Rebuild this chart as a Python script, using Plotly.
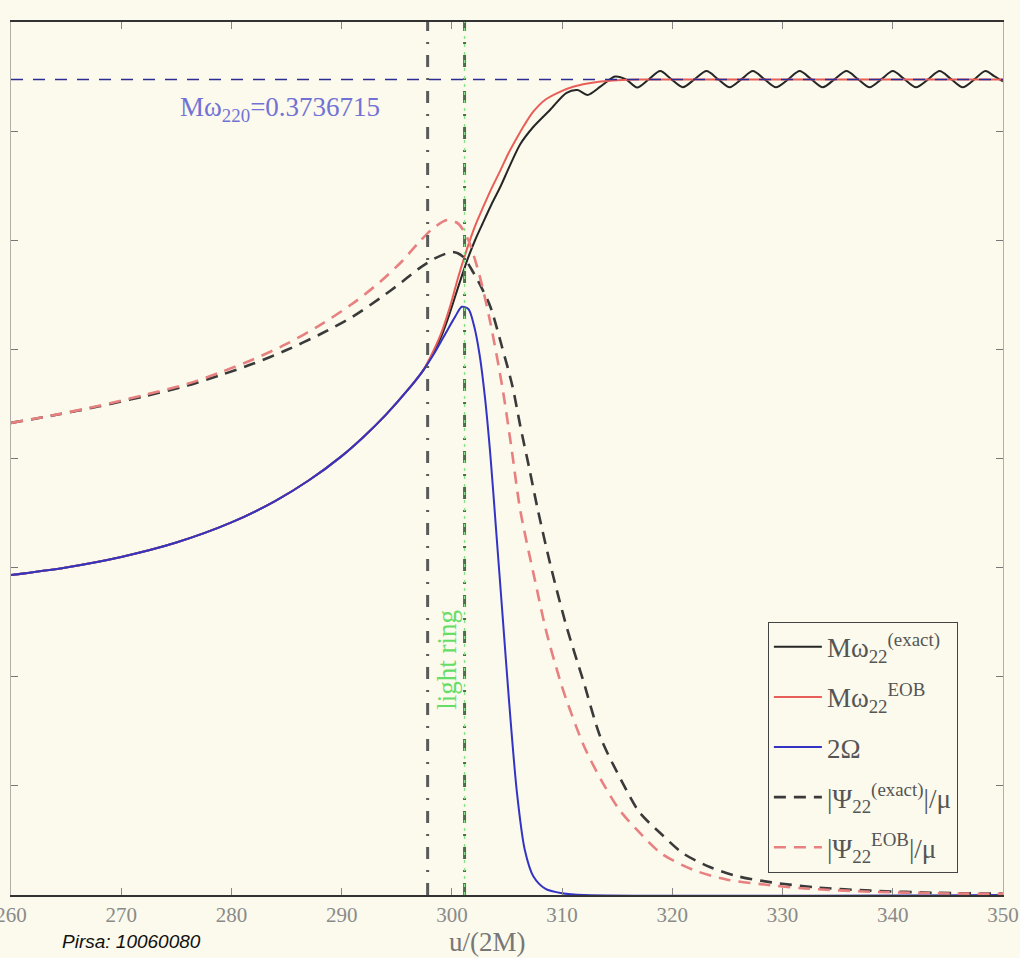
import plotly.graph_objects as go

# ---- data: u/(2M) on x, frequencies / amplitudes on y ----
# shared inspiral part (all frequency curves coincide here)
u_inspiral = [260, 265, 270, 275, 280, 284, 287, 290, 292, 294, 296, 297.4]
w_inspiral = [0.1466, 0.1501, 0.1549, 0.1615, 0.1707, 0.1806, 0.1899, 0.2011,
              0.2100, 0.2200, 0.2314, 0.2404]

# M omega_22 (exact): merger + ringdown with residual oscillation
u_omega_exact_late = [298.0, 299.0, 299.8, 300.6, 301.4, 302.1, 302.8, 303.6, 304.4,
                      305.2, 306.2, 307.4, 308.9, 310.4, 311.4, 312.3, 313.5, 314.8,
                      315.8, 316.8, 317.85, 318.9, 319.9, 320.95, 322.0, 323.1, 324.15,
                      325.2, 326.25, 327.3, 328.35, 329.4, 330.5, 331.55, 332.6, 333.65,
                      334.7, 335.8, 336.85, 337.9, 338.95, 340.0, 341.05, 342.1, 343.2,
                      344.25, 345.3, 346.35, 347.4, 348.4, 349.2, 350.0]
omega_exact_late = [0.2455, 0.2555, 0.2665, 0.2790, 0.2910, 0.3000, 0.3078, 0.3165, 0.3245,
                    0.3335, 0.3440, 0.3520, 0.3597, 0.3675, 0.3688, 0.3666, 0.3705, 0.3750,
                    0.3737, 0.3700, 0.3737, 0.3775, 0.3738, 0.3701, 0.3737, 0.3775, 0.3738,
                    0.3701, 0.3737, 0.3775, 0.3738, 0.3701, 0.3737, 0.3775, 0.3738, 0.3701,
                    0.3737, 0.3775, 0.3738, 0.3701, 0.3737, 0.3775, 0.3738, 0.3701, 0.3737,
                    0.3775, 0.3738, 0.3701, 0.3737, 0.3775, 0.3752, 0.3728]

# M omega_22 (EOB)
u_omega_eob_late = [298.0, 299.0, 299.8, 300.6, 301.4, 302.1, 302.8, 303.6, 304.4, 305.1,
                    305.8, 306.6, 307.4, 308.5, 309.8, 311.0, 312.3, 313.5, 315.0, 317.0, 350.0]
omega_eob_late = [0.2460, 0.2570, 0.2690, 0.2835, 0.2965, 0.3065, 0.3148, 0.3238, 0.3320,
                  0.3395, 0.3460, 0.3530, 0.3590, 0.3645, 0.3680, 0.3703, 0.3718, 0.3727,
                  0.3733, 0.3737, 0.3737]

# 2 Omega (orbital frequency)
u_two_omega_late = [298.5, 299.5, 300.3, 300.9, 301.5, 302.0, 302.5, 303.0, 303.5, 304.0,
                    304.6, 305.2, 305.9, 306.6, 307.4, 308.5, 310.0, 312.0, 350.0]
two_omega_late = [0.2490, 0.2580, 0.2650, 0.2695, 0.2685, 0.2610, 0.2480, 0.2280, 0.2010,
                  0.1680, 0.1280, 0.0880, 0.0470, 0.0210, 0.0085, 0.0028, 0.0008, 0.0, 0.0]

# |Psi_22| / mu, exact
u_psi_exact = [260, 264, 268, 272, 276, 279, 282, 285, 288, 291, 293.5, 295.5, 297.0,
               298.5, 300.1, 301.0, 301.8, 302.7, 303.5, 304.5, 305.5, 306.2, 307.0,
               307.8, 309.0, 310.4, 311.9, 313.5, 315.5, 317.0, 318.9, 321.0, 323.4,
               326.0, 329.0, 333.0, 338.0, 344.0, 350.0]
psi_exact = [0.2163, 0.2199, 0.2239, 0.2284, 0.2334, 0.2382, 0.2435, 0.2497, 0.2568,
             0.2650, 0.2735, 0.2810, 0.2870, 0.2918, 0.2946, 0.2925, 0.2865, 0.2782,
             0.2694, 0.2520, 0.2330, 0.2150, 0.1960, 0.1764, 0.1500, 0.1230, 0.0985,
             0.0720, 0.0513, 0.0380, 0.0284, 0.0190, 0.0128, 0.0085, 0.0058, 0.0035,
             0.0020, 0.0010, 0.0006]

# |Psi_22| / mu, EOB
u_psi_eob = [260, 264, 268, 272, 276, 279, 282, 285, 288, 291, 293.5, 295.5, 297.0,
             298.3, 299.6, 300.6, 301.5, 302.5, 303.5, 304.6, 305.4, 306.2, 307.5,
             308.6, 309.8, 310.4, 312.0, 313.7, 315.2, 316.8, 319.0, 321.9, 325.0,
             328.0, 332.0, 338.0, 344.0, 350.0]
psi_eob = [0.2163, 0.2200, 0.2242, 0.2290, 0.2342, 0.2395, 0.2455, 0.2525, 0.2610,
           0.2710, 0.2810, 0.2905, 0.2990, 0.3055, 0.3093, 0.3075, 0.3000, 0.2840,
           0.2620, 0.2320, 0.2050, 0.1764, 0.1450, 0.1200, 0.0985, 0.0893, 0.0680,
           0.0513, 0.0390, 0.0298, 0.0190, 0.0115, 0.0070, 0.0050, 0.0030, 0.0015,
           0.0008, 0.0005]

M_OMEGA_220 = 0.3736715   # fundamental QNM frequency
U_PSI_PEAK = 297.8        # reference time (gray marker)
U_LIGHT_RING = 301.15     # light-ring crossing

x_ticks = [260, 270, 280, 290, 300, 310, 320, 330, 340, 350]
y_ticks = [0, 0.05, 0.1, 0.15, 0.2, 0.25, 0.3, 0.35, 0.4]

BG = "#FBFAEC"
SERIF = "Liberation Serif, Times New Roman, serif"

fig = go.Figure()

curves = [
    (u_inspiral + u_omega_exact_late, w_inspiral + omega_exact_late,
     "Mω<sub>22</sub><sup>(exact)</sup>", dict(color="#262626", width=2)),
    (u_inspiral + u_omega_eob_late, w_inspiral + omega_eob_late,
     "Mω<sub>22</sub><sup>EOB</sup>", dict(color="#E85E58", width=2)),
    (u_inspiral + u_two_omega_late, w_inspiral + two_omega_late,
     "2Ω", dict(color="#3434C4", width=2)),
    (u_psi_exact, psi_exact,
     "|Ψ<sub>22</sub><sup>(exact)</sup>|/μ", dict(color="#3a3a3a", width=2.6, dash="12px,8px")),
    (u_psi_eob, psi_eob,
     "|Ψ<sub>22</sub><sup>EOB</sup>|/μ", dict(color="#E88080", width=2.6, dash="12px,8px")),
]
for i, (xs, ys, label, style) in enumerate(curves):
    fig.add_trace(go.Scatter(
        x=xs, y=ys, mode="lines", name=label, legendgroup=f"g{i}",
        line=dict(shape="spline", smoothing=0.8, **style)))

# QNM frequency level
fig.add_shape(type="line", xref="x domain", yref="y", x0=0, x1=1,
              y0=M_OMEGA_220, y1=M_OMEGA_220,
              line=dict(color="#2c2c94", width=1.6, dash="12px,10px"))
# vertical reference times
fig.add_shape(type="line", xref="x", yref="y domain", x0=U_PSI_PEAK, x1=U_PSI_PEAK,
              y0=0, y1=1, line=dict(color="#5a5a5a", width=3, dash="12px,11px,2px,11px"))
fig.add_shape(type="line", xref="x", yref="y domain", x0=U_LIGHT_RING, x1=U_LIGHT_RING,
              y0=0, y1=1, line=dict(color="#4f6c4f", width=3, dash="12px,11px,2px,11px"))
fig.add_shape(type="line", xref="x", yref="y domain", x0=U_LIGHT_RING, x1=U_LIGHT_RING,
              y0=0, y1=1, line=dict(color="#86E286", width=1.4, dash="3px,5px"))

fig.add_annotation(x=284.4, y=0.3600, xref="x", yref="y", showarrow=False,
                   text="Mω<sub>220</sub>=0.3736715",
                   font=dict(family=SERIF, size=27, color="#7272D6"))
fig.add_annotation(x=299.6, y=0.108, xref="x", yref="y", showarrow=False,
                   text="light ring", textangle=-90,
                   font=dict(family=SERIF, size=27, color="#66DD66"))
fig.add_annotation(x=0.48, y=-0.054, xref="paper", yref="paper", showarrow=False,
                   text="u/(2M)", yanchor="middle",
                   font=dict(family=SERIF, size=27, color="#777777"))
fig.add_annotation(x=0.049, y=-0.053, xref="paper", yref="paper", showarrow=False,
                   text="<i>Pirsa: 10060080</i>", xanchor="left", yanchor="middle",
                   font=dict(family="Liberation Sans, Arial, sans-serif", size=19,
                             color="#111111"))

fig.update_xaxes(range=[260, 350], tickvals=x_ticks, ticks="inside", ticklen=7,
                 tickcolor="#888888", showline=True, linecolor="#333333", linewidth=1.5,
                 mirror="ticks", showgrid=False, zeroline=False,
                 ticklabeloverflow="allow", automargin=False,
                 tickfont=dict(family=SERIF, size=21, color="#8a8a8a"))
fig.update_yaxes(range=[0, 0.4], tickvals=y_ticks, ticks="inside", ticklen=7,
                 tickcolor="#777777", showline=True, linecolor="#b0b0a8", linewidth=1,
                 mirror="ticks", showgrid=False, zeroline=False, showticklabels=False,
                 automargin=False)

fig.update_layout(
    width=1020, height=958, autosize=False,
    margin=dict(l=11, r=17, t=22, b=63),
    paper_bgcolor=BG, plot_bgcolor=BG,
    showlegend=True,
    legend=dict(x=0.763, y=0.313, xanchor="left", yanchor="top",
                bgcolor=BG, bordercolor="#444444", borderwidth=1,
                tracegroupgap=12, itemwidth=48,
                font=dict(family=SERIF, size=27, color="#555555")),
)

fig.write_html("out.html")
